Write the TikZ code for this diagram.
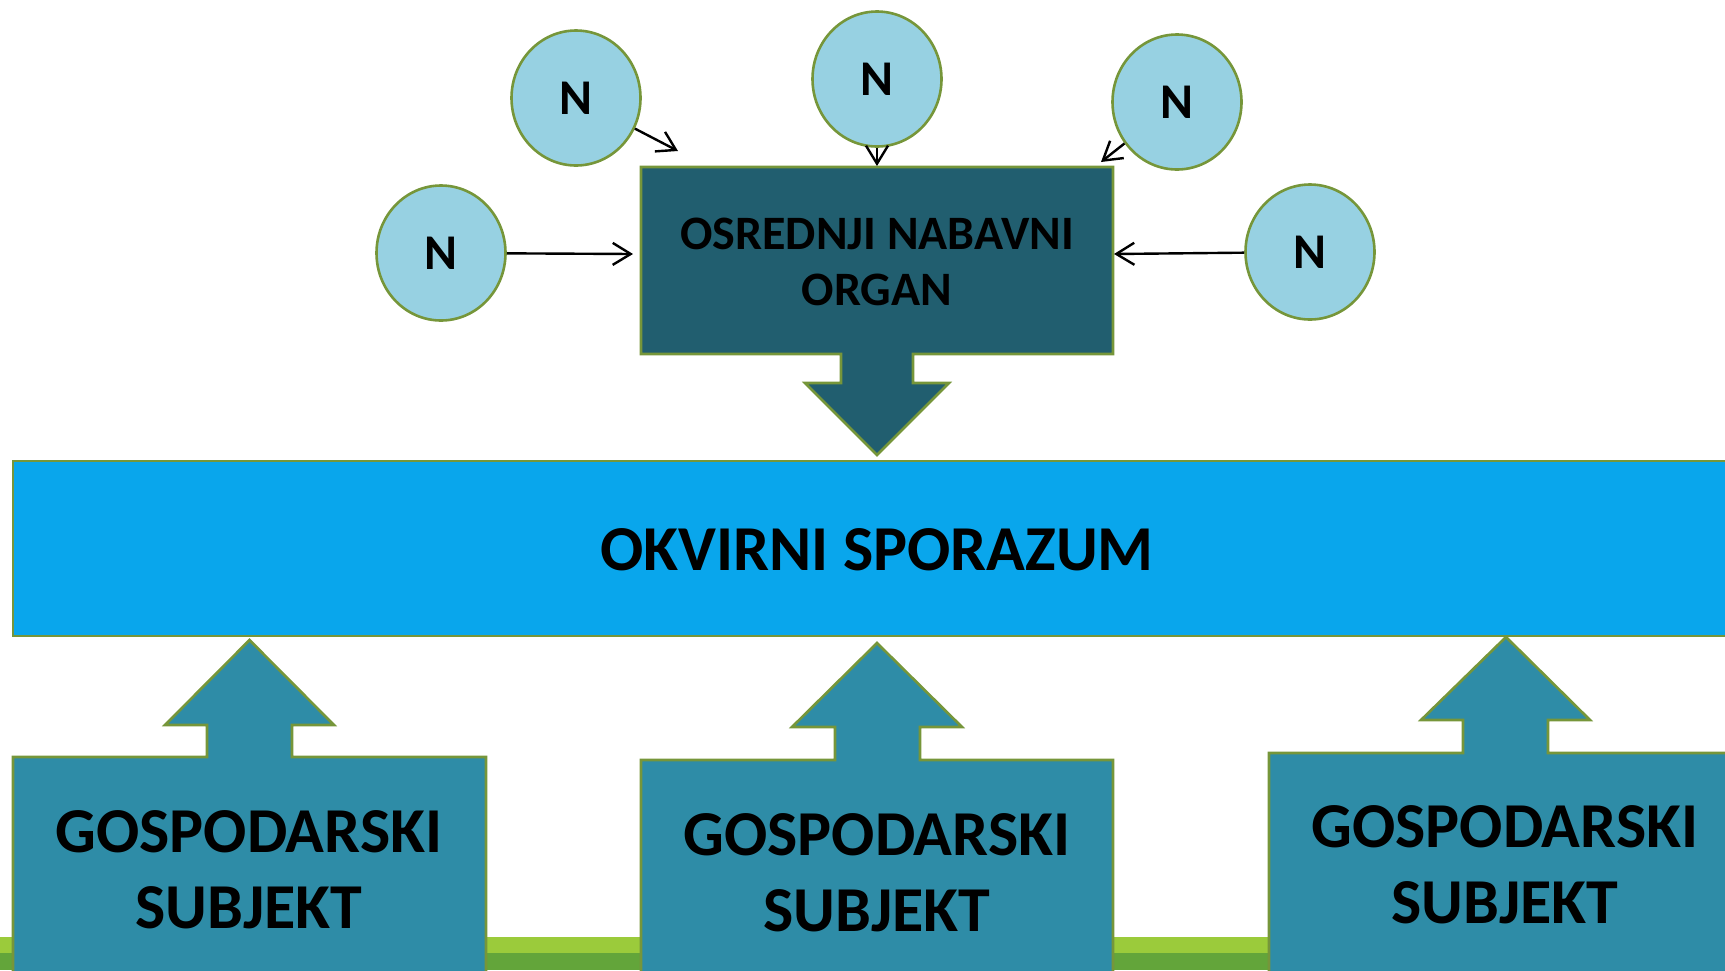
\documentclass[tikz,border=0pt]{standalone}
\usepackage{fontspec}
\setmainfont{Carlito}
\usetikzlibrary{shapes.geometric,arrows.meta}

\definecolor{rim}{HTML}{76963A}
\definecolor{bubble}{HTML}{97D1E2}
\definecolor{organ}{HTML}{215E6F}
\definecolor{band}{HTML}{09A6EC}
\definecolor{subj}{HTML}{2E8CA7}
\definecolor{lightgrass}{HTML}{9BCB3B}
\definecolor{darkgrass}{HTML}{63A53A}

\begin{document}
\begin{tikzpicture}[x=0.5pt, y=-0.5pt,
		bub/.style={ellipse, draw=rim, line width=1.3pt, fill=bubble, minimum width=64.5pt, minimum height=67.5pt, inner sep=0pt, font=\bfseries\fontsize{25}{25}\selectfont},
		blk/.style={draw=rim, line width=1.3pt, line join=miter},
		lbl/.style={align=center, font=\bfseries\fontsize{32}{38}\selectfont},
		conn/.style={line width=1.2pt, -{Straight Barb[length=9pt, width=11pt]}}]
			\useasboundingbox (0,0) rectangle (1725,970);
			\clip (0,0) rectangle (1725,970);
			\fill[lightgrass] (0,937) rectangle (1725,953);
			\fill[darkgrass] (0,953) rectangle (1725,970);
			\draw[blk, fill=band] (13,461) rectangle (1740,636);
			\node[lbl] (okvir) at (877,550) {OKVIRNI SPORAZUM};
			\draw[blk, fill=organ] (641,167) -- (1113,167) -- (1113,354) -- (913,354) -- (913,383) -- (949,383) -- (877,455) -- (805,383) -- (841,383) -- (841,354) -- (641,354) -- cycle;
			\node[minimum width=236pt, minimum height=93.5pt, align=center, font=\bfseries\fontsize{24}{28}\selectfont] (organ) at (877,262) {OSREDNJI NABAVNI\\ORGAN};
			\draw[blk, fill=subj] (13,980) -- (13,757) -- (207,757) -- (207,725) -- (165,725) -- (249.5,640) -- (334,725) -- (292,725) -- (292,757) -- (486,757) -- (486,980) -- cycle;
			\draw[blk, fill=subj] (641,980) -- (641,760) -- (835,760) -- (835,727) -- (792,727) -- (877,643) -- (962,727) -- (920,727) -- (920,760) -- (1113,760) -- (1113,980) -- cycle;
			\draw[blk, fill=subj] (1269,980) -- (1269,753) -- (1463,753) -- (1463,720) -- (1421,720) -- (1506,637) -- (1590,720) -- (1548,720) -- (1548,753) -- (1740,753) -- (1740,980) -- cycle;
			\node[lbl] (gs1) at (249,870) {GOSPODARSKI\\SUBJEKT};
			\node[lbl] (gs2) at (877,873) {GOSPODARSKI\\SUBJEKT};
			\node[lbl] (gs3) at (1505,865) {GOSPODARSKI\\SUBJEKT};
			\node[bub] (n1) at (576,98) {N};
			\node[bub] (n2) at (877,79) {N};
			\node[bub] (n3) at (1177,102) {N};
			\node[bub] (n4) at (441,253) {N};
			\node[bub] (n5) at (1310,252) {N};
			\coordinate (a1) at (678,151);
			\coordinate (a2) at (877,166);
			\coordinate (a3) at (1101,162);
			\coordinate (a4) at (633,254);
			\coordinate (a5) at (1114,254);
			\draw[conn] (n1) -- (a1);
			\draw[conn] (n2) -- (a2);
			\draw[conn] (n3) -- (a3);
			\draw[conn] (n4) -- (a4);
			\draw[conn] (n5) -- (a5);
		\end{tikzpicture}
\end{document}
